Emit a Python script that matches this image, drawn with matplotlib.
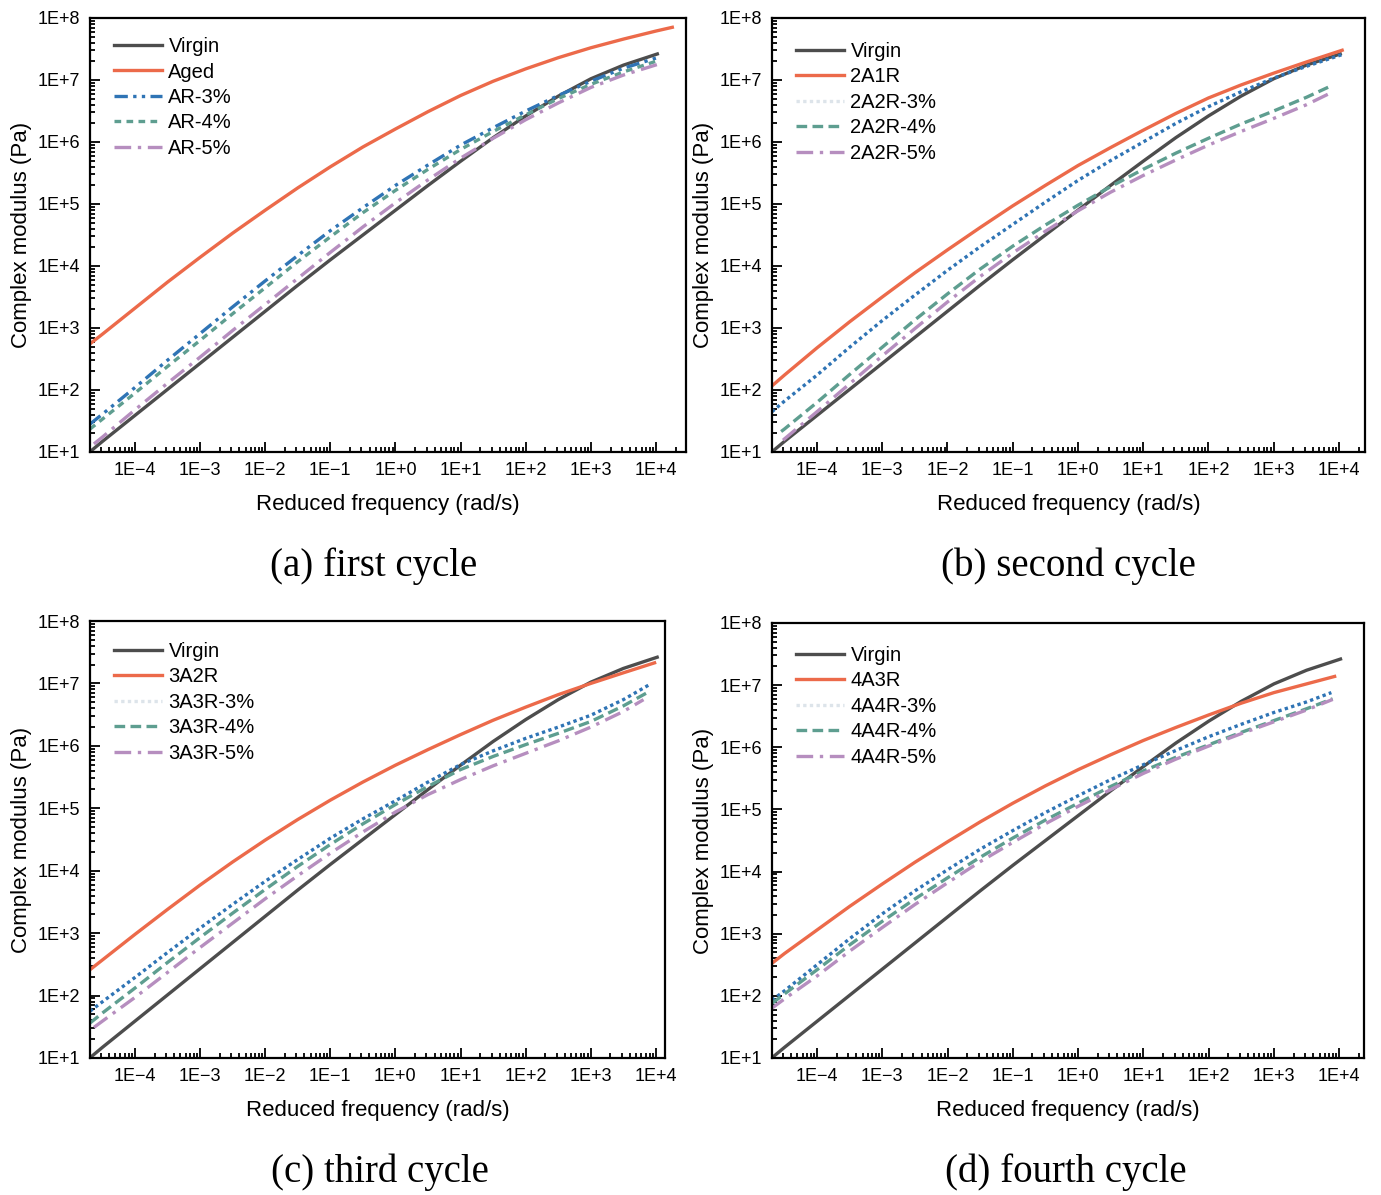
"""
Complex modulus master curves for four ageing / rejuvenation cycles.
"""

import numpy as np
import matplotlib
matplotlib.use("Agg")
import matplotlib.pyplot as plt
from matplotlib.lines import Line2D
from matplotlib.ticker import FixedLocator, FuncFormatter, NullFormatter

plt.rcParams["font.family"] = ["Liberation Sans", "DejaVu Sans"]

# log10 of reduced frequency (rad/s) / log10 of |G*| (Pa), one pair per curve
VIRGIN_LOGF = [-4.66, -4.5, -4, -3.5, -3, -2.5, -2, -1.5, -1, -0.5, 0, 0.5, 1, 1.5, 2, 2.5, 3, 3.5, 4.02]
VIRGIN_LOGG = [1.03, 1.17, 1.59, 2.01, 2.43, 2.85, 3.27, 3.69, 4.10, 4.50, 4.90, 5.30, 5.69, 6.07, 6.42, 6.74, 7.02, 7.24, 7.42]

# (a) first cycle
AGED_LOGF = [-4.72, -4.5, -4, -3.5, -3, -2.5, -2, -1.5, -1, -0.5, 0, 0.5, 1, 1.5, 2, 2.5, 3, 3.5, 4, 4.25]
AGED_LOGG = [2.72, 2.90, 3.32, 3.74, 4.14, 4.53, 4.90, 5.26, 5.60, 5.92, 6.21, 6.49, 6.75, 6.98, 7.18, 7.36, 7.52, 7.66, 7.79, 7.85]
AR3_LOGF = [-4.69, -4.5, -4, -3.5, -3, -2.5, -2, -1.5, -1, -0.5, 0, 0.5, 1, 1.5, 2, 2.5, 3, 3.5, 4.05]
AR3_LOGG = [1.45, 1.61, 2.04, 2.48, 2.91, 3.34, 3.76, 4.17, 4.57, 4.94, 5.30, 5.63, 5.95, 6.23, 6.50, 6.75, 6.98, 7.19, 7.37]
AR4_LOGF = [-4.69, -4.5, -4, -3.5, -3, -2.5, -2, -1.5, -1, -0.5, 0, 0.5, 1, 1.5, 2, 2.5, 3, 3.5, 4.05]
AR4_LOGG = [1.37, 1.53, 1.95, 2.38, 2.80, 3.23, 3.65, 4.07, 4.47, 4.86, 5.22, 5.56, 5.88, 6.17, 6.44, 6.70, 6.93, 7.13, 7.32]
AR5_LOGF = [-4.63, -4.5, -4, -3.5, -3, -2.5, -2, -1.5, -1, -0.5, 0, 0.5, 1, 1.5, 2, 2.5, 3, 3.5, 4.05]
AR5_LOGG = [1.13, 1.24, 1.68, 2.11, 2.53, 2.96, 3.38, 3.80, 4.22, 4.63, 5.02, 5.39, 5.74, 6.06, 6.36, 6.63, 6.88, 7.08, 7.26]

# (b) second cycle
C2_AGED_LOGF = [-4.73, -4.5, -4, -3.5, -3, -2.5, -2, -1.5, -1, -0.5, 0, 0.5, 1, 1.5, 2, 2.5, 3, 3.5, 4.05]
C2_AGED_LOGG = [2.03, 2.24, 2.68, 3.10, 3.50, 3.89, 4.26, 4.62, 4.97, 5.30, 5.62, 5.91, 6.19, 6.46, 6.71, 6.92, 7.11, 7.29, 7.48]
C2_R3_LOGF = [-4.69, -4.5, -4, -3.5, -3, -2.5, -2, -1.5, -1, -0.5, 0, 0.5, 1, 1.5, 2, 2.5, 3, 3.5, 4.05]
C2_R3_LOGG = [1.65, 1.82, 2.24, 2.69, 3.12, 3.53, 3.93, 4.31, 4.67, 5.03, 5.38, 5.70, 6.00, 6.30, 6.57, 6.81, 7.03, 7.22, 7.41]
C2_R4_LOGF = [-4.55, -4.5, -4, -3.5, -3, -2.5, -2, -1.5, -1, -0.5, 0, 0.5, 1, 1.5, 2, 2.5, 3, 3.5, 3.87]
C2_R4_LOGG = [1.33, 1.37, 1.80, 2.25, 2.69, 3.13, 3.55, 3.95, 4.32, 4.66, 4.98, 5.28, 5.56, 5.82, 6.06, 6.29, 6.50, 6.72, 6.90]
C2_R5_LOGF = [-4.52, -4.5, -4, -3.5, -3, -2.5, -2, -1.5, -1, -0.5, 0, 0.5, 1, 1.5, 2, 2.5, 3, 3.5, 3.87]
C2_R5_LOGG = [1.19, 1.21, 1.65, 2.10, 2.55, 2.99, 3.42, 3.83, 4.21, 4.56, 4.89, 5.19, 5.46, 5.71, 5.95, 6.17, 6.38, 6.60, 6.79]

# (c) third cycle
C3_AGED_LOGF = [-4.72, -4.5, -4, -3.5, -3, -2.5, -2, -1.5, -1, -0.5, 0, 0.5, 1, 1.5, 2, 2.5, 3, 3.5, 3.98]
C3_AGED_LOGG = [2.39, 2.57, 2.98, 3.38, 3.77, 4.14, 4.49, 4.82, 5.13, 5.42, 5.69, 5.94, 6.18, 6.41, 6.62, 6.82, 7.00, 7.17, 7.33]
C3_R3_LOGF = [-4.69, -4.5, -4, -3.5, -3, -2.5, -2, -1.5, -1, -0.5, 0, 0.5, 1, 1.5, 2, 2.5, 3, 3.5, 3.90]
C3_R3_LOGG = [1.75, 1.90, 2.29, 2.69, 3.08, 3.46, 3.83, 4.18, 4.52, 4.83, 5.12, 5.42, 5.70, 5.92, 6.12, 6.30, 6.49, 6.74, 6.98]
C3_R4_LOGF = [-4.69, -4.5, -4, -3.5, -3, -2.5, -2, -1.5, -1, -0.5, 0, 0.5, 1, 1.5, 2, 2.5, 3, 3.5, 3.88]
C3_R4_LOGG = [1.56, 1.72, 2.12, 2.53, 2.93, 3.32, 3.70, 4.07, 4.42, 4.75, 5.06, 5.35, 5.62, 5.83, 6.02, 6.20, 6.39, 6.64, 6.86]
C3_R5_LOGF = [-4.63, -4.5, -4, -3.5, -3, -2.5, -2, -1.5, -1, -0.5, 0, 0.5, 1, 1.5, 2, 2.5, 3, 3.5, 3.81]
C3_R5_LOGG = [1.49, 1.59, 1.97, 2.37, 2.77, 3.16, 3.55, 3.92, 4.28, 4.62, 4.94, 5.22, 5.46, 5.68, 5.88, 6.08, 6.30, 6.55, 6.74]

# (d) fourth cycle
C4_AGED_LOGF = [-4.72, -4.5, -4, -3.5, -3, -2.5, -2, -1.5, -1, -0.5, 0, 0.5, 1, 1.5, 2, 2.5, 3, 3.5, 3.93]
C4_AGED_LOGG = [2.50, 2.68, 3.06, 3.44, 3.80, 4.15, 4.48, 4.80, 5.10, 5.38, 5.64, 5.88, 6.11, 6.32, 6.52, 6.71, 6.88, 7.02, 7.14]
C4_R3_LOGF = [-4.69, -4.5, -4, -3.5, -3, -2.5, -2, -1.5, -1, -0.5, 0, 0.5, 1, 1.5, 2, 2.5, 3, 3.5, 3.88]
C4_R3_LOGG = [1.93, 2.08, 2.50, 2.92, 3.32, 3.69, 4.03, 4.36, 4.66, 4.95, 5.22, 5.48, 5.72, 5.95, 6.17, 6.37, 6.56, 6.73, 6.88]
C4_R4_LOGF = [-4.69, -4.5, -4, -3.5, -3, -2.5, -2, -1.5, -1, -0.5, 0, 0.5, 1, 1.5, 2, 2.5, 3, 3.5, 3.90]
C4_R4_LOGG = [1.88, 2.03, 2.42, 2.82, 3.20, 3.56, 3.90, 4.23, 4.54, 4.83, 5.10, 5.37, 5.62, 5.84, 6.04, 6.24, 6.43, 6.62, 6.78]
C4_R5_LOGF = [-4.72, -4.5, -4, -3.5, -3, -2.5, -2, -1.5, -1, -0.5, 0, 0.5, 1, 1.5, 2, 2.5, 3, 3.5, 3.90]
C4_R5_LOGG = [1.78, 1.95, 2.32, 2.72, 3.10, 3.47, 3.82, 4.16, 4.47, 4.77, 5.05, 5.32, 5.58, 5.81, 6.02, 6.22, 6.41, 6.60, 6.77]

LABELS_A = ["Virgin", "Aged", "AR-3%", "AR-4%", "AR-5%"]
LABELS_B = ["Virgin", "2A1R", "2A2R-3%", "2A2R-4%", "2A2R-5%"]
LABELS_C = ["Virgin", "3A2R", "3A3R-3%", "3A3R-4%", "3A3R-5%"]
LABELS_D = ["Virgin", "4A3R", "4A4R-3%", "4A4R-4%", "4A4R-5%"]
CAPTIONS = ["(a) first cycle", "(b) second cycle", "(c) third cycle", "(d) fourth cycle"]

GRAY = "#4d4d4d"
ORANGE = "#ec6a4a"
BLUE = "#2f74b5"
GREEN = "#5e9e90"
PURPLE = "#b68ebf"
LW = 2.4

DOT = (0, (1, 1))
DASH = (0, (3.2, 1.6))
DASHDOT = (0, (5, 2, 1, 2))
DASHDOTDOT = (0, (4, 1.6, 1, 1.6, 1, 1.6))
SHORTDASH = (0, (2, 1.6))

W, H = 1381.0, 1195.0


def fmt_exp(val, pos):
    n = int(round(np.log10(val)))
    sign = "+" if n >= 0 else "\u2212"
    return f"1E{sign}{abs(n)}"


def log_ticks(lo, hi):
    major = [10.0 ** k for k in range(int(np.ceil(lo)), int(np.floor(hi)) + 1)]
    minor = [m * 10.0 ** k for k in range(int(np.floor(lo)), int(np.ceil(hi)) + 1)
             for m in range(2, 10) if lo <= np.log10(m * 10.0 ** k) <= hi]
    return major, minor


def style_axes(ax, xlim_log):
    ax.set_xscale("log")
    ax.set_yscale("log")
    ax.set_xlim(10 ** xlim_log[0], 10 ** xlim_log[1])
    ax.set_ylim(1e1, 1e8)
    xmaj, xmin = log_ticks(*xlim_log)
    ymaj, ymin = log_ticks(1, 8)
    ax.xaxis.set_major_locator(FixedLocator(xmaj))
    ax.xaxis.set_minor_locator(FixedLocator(xmin))
    ax.yaxis.set_major_locator(FixedLocator(ymaj))
    ax.yaxis.set_minor_locator(FixedLocator(ymin))
    ax.xaxis.set_major_formatter(FuncFormatter(fmt_exp))
    ax.yaxis.set_major_formatter(FuncFormatter(fmt_exp))
    ax.xaxis.set_minor_formatter(NullFormatter())
    ax.yaxis.set_minor_formatter(NullFormatter())
    ax.tick_params(which="both", direction="in", top=False, right=False,
                   labelsize=13, width=1.3, pad=7)
    ax.tick_params(which="major", length=7)
    ax.tick_params(which="minor", length=3.5)
    for sp in ax.spines.values():
        sp.set_linewidth(1.6)
    ax.set_ylabel("Complex modulus (Pa)", fontsize=16, labelpad=4)
    ax.set_xlabel("Reduced frequency (rad/s)", fontsize=16, labelpad=11)


def curve(ax, logf, logg, **kw):
    ax.plot(10 ** np.array(logf), 10 ** np.array(logg), lw=LW, **kw)


def legend(ax, handles, labels, top_px, height_px, width_px):
    ax.legend(handles, labels, loc="upper left", frameon=False, fontsize=14.5,
              handlelength=2.4, handletextpad=0.3, labelspacing=0.32,
              borderaxespad=0, borderpad=0.4,
              bbox_to_anchor=(16 / width_px, 1 - top_px / height_px))


fig = plt.figure(figsize=(13.81, 11.95), dpi=100)


def add_axes(left, right, top, bottom):
    return fig.add_axes([left / W, 1 - bottom / H, (right - left) / W, (bottom - top) / H])


ax_a = add_axes(90, 686, 18, 452)
ax_b = add_axes(772, 1365, 18, 452)
ax_c = add_axes(90, 665, 621, 1058)
ax_d = add_axes(772, 1364, 623, 1058)

# (a) first cycle
curve(ax_a, VIRGIN_LOGF, VIRGIN_LOGG, color=GRAY)
curve(ax_a, AGED_LOGF, AGED_LOGG, color=ORANGE)
curve(ax_a, AR3_LOGF, AR3_LOGG, color=BLUE, ls=DASHDOTDOT)
curve(ax_a, AR4_LOGF, AR4_LOGG, color=GREEN, ls=SHORTDASH)
curve(ax_a, AR5_LOGF, AR5_LOGG, color=PURPLE, ls=DASHDOT)
handles_a = [
    Line2D([], [], color=GRAY, lw=LW),
    Line2D([], [], color=ORANGE, lw=LW),
    Line2D([], [], color=BLUE, lw=LW, ls=DASHDOTDOT),
    Line2D([], [], color=GREEN, lw=LW, ls=SHORTDASH),
    Line2D([], [], color=PURPLE, lw=LW, ls=DASHDOT),
]
legend(ax_a, handles_a, LABELS_A, 11, 434, 596)

panels = [
    (ax_b, C2_AGED_LOGF, C2_AGED_LOGG, C2_R3_LOGF, C2_R3_LOGG, C2_R4_LOGF, C2_R4_LOGG,
     C2_R5_LOGF, C2_R5_LOGG, LABELS_B, 16, 434, 593),
    (ax_c, C3_AGED_LOGF, C3_AGED_LOGG, C3_R3_LOGF, C3_R3_LOGG, C3_R4_LOGF, C3_R4_LOGG,
     C3_R5_LOGF, C3_R5_LOGG, LABELS_C, 13, 437, 575),
    (ax_d, C4_AGED_LOGF, C4_AGED_LOGG, C4_R3_LOGF, C4_R3_LOGG, C4_R4_LOGF, C4_R4_LOGG,
     C4_R5_LOGF, C4_R5_LOGG, LABELS_D, 15, 435, 592),
]
for ax, af, ag, r3f, r3g, r4f, r4g, r5f, r5g, labels, top_px, h_px, w_px in panels:
    curve(ax, VIRGIN_LOGF, VIRGIN_LOGG, color=GRAY)
    curve(ax, af, ag, color=ORANGE)
    curve(ax, r3f, r3g, color=BLUE, ls=DOT)
    curve(ax, r4f, r4g, color=GREEN, ls=DASH)
    curve(ax, r5f, r5g, color=PURPLE, ls=DASHDOT)
    # legend key for the dotted series is drawn faint
    handles = [
        Line2D([], [], color=GRAY, lw=LW),
        Line2D([], [], color=ORANGE, lw=LW),
        Line2D([], [], color="#dde4ea", lw=LW, ls=DOT),
        Line2D([], [], color=GREEN, lw=LW, ls=DASH),
        Line2D([], [], color=PURPLE, lw=LW, ls=DASHDOT),
    ]
    legend(ax, handles, labels, top_px, h_px, w_px)

style_axes(ax_a, (-4.69, 4.46))
style_axes(ax_b, (-4.69, 4.40))
style_axes(ax_c, (-4.69, 4.14))
style_axes(ax_d, (-4.69, 4.38))

serif = ["Liberation Serif", "DejaVu Serif"]
caption_pos = [(374, 566), (1068, 566), (380, 1172), (1066, 1172)]
for text, (cx, cy) in zip(CAPTIONS, caption_pos):
    fig.text(cx / W, 1 - cy / H, text, ha="center", va="center",
             fontsize=28, family=serif)

fig.savefig("out.png", dpi=100)
